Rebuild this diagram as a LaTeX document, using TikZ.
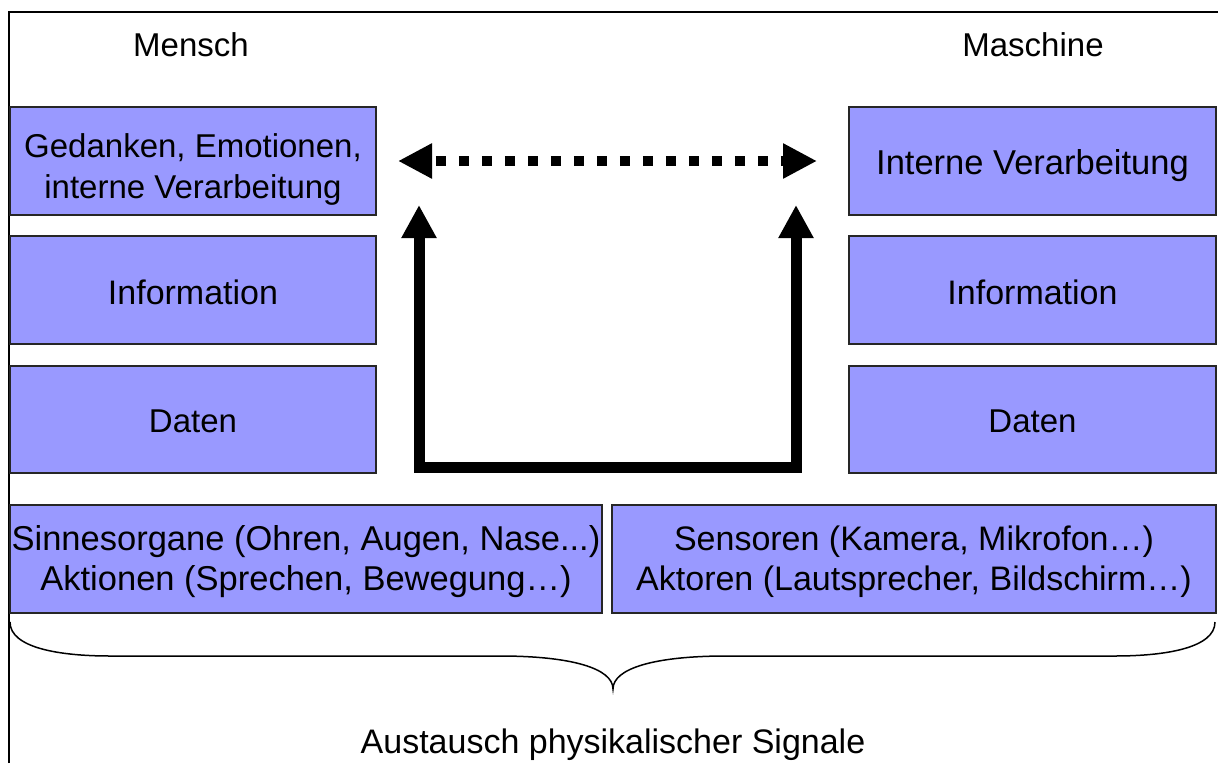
\documentclass[tikz,border=0pt]{standalone}
\usepackage{fontspec}
\setmainfont{Liberation Sans}
\usetikzlibrary{arrows.meta}
\definecolor{boxfill}{HTML}{9999FF}
\begin{document}
\begin{tikzpicture}[x=1pt,y=-1pt,
  box/.style={draw=black!85,line width=1.2pt,fill=boxfill,inner sep=0pt},
  lbl/.style={inner sep=0pt,align=center,font=\fontsize{33}{41}\selectfont},
  lblb/.style={inner sep=0pt,align=center,font=\fontsize{34.5}{40}\selectfont},
  lblm/.style={inner sep=0pt,align=center,font=\fontsize{34}{40}\selectfont},
  bigarrow/.style={line width=11pt,line join=miter,
    {Triangle[width=33pt,length=33pt]}-{Triangle[width=33pt,length=33pt]}},
  dotarrow/.style={line width=10pt,dash pattern=on 10pt off 13pt,dash phase=-6pt,
    {Triangle[width=33pt,length=34pt]}-{Triangle[width=33pt,length=34pt]}},
  bracepath/.style={line width=1.5pt}]
\useasboundingbox (0,0) rectangle (1218,763);
\fill[white] (0,0) rectangle (1218,763);
% outer frame
\draw[line width=2pt] (9,763) -- (9,12) -- (1220,12);
% titles
\node[lbl] (mensch) at (191,45) {Mensch};
\node[lbl] (maschine) at (1033,45) {Maschine};
% left column
\node[box,minimum width=366pt,minimum height=108pt] (gedanken) at (193,161) {};
\node[box,minimum width=366pt,minimum height=108pt] (infoL) at (193,290) {};
\node[box,minimum width=366pt,minimum height=107pt] (datenL) at (193,419.5) {};
% right column
\node[box,minimum width=367pt,minimum height=108pt] (intern) at (1032.5,161) {};
\node[box,minimum width=367pt,minimum height=108pt] (infoR) at (1032.5,290) {};
\node[box,minimum width=367pt,minimum height=107pt] (datenR) at (1032.5,419.5) {};
% bottom boxes
\node[box,minimum width=592pt,minimum height=108pt] (sinne) at (306,559) {};
\node[box,minimum width=604pt,minimum height=108pt] (sensoren) at (914,559) {};
% box texts
\node[lbl,yshift=-8pt] (tGedanken) at (gedanken.center) {Gedanken, Emotionen,\\interne Verarbeitung};
\node[lblm,yshift=-2pt] (tInfoL) at (infoL.center) {Information};
\node[lbl,yshift=-2pt] (tDatenL) at (datenL.center) {Daten};
\node[lblb,yshift=-5pt] (tIntern) at (intern.center) {Interne Verarbeitung};
\node[lblm,yshift=-2pt] (tInfoR) at (infoR.center) {Information};
\node[lbl,yshift=-2pt] (tDatenR) at (datenR.center) {Daten};
\node[lblb,yshift=-3pt] (tSinne) at (sinne.center) {Sinnesorgane (Ohren, Augen, Nase...)\\Aktionen (Sprechen, Bewegung\ldots)};
\node[lblm,yshift=-3pt] (tSensoren) at (sensoren.center) {Sensoren (Kamera, Mikrofon\ldots)\\Aktoren (Lautsprecher, Bildschirm\ldots)};
% arrows
\coordinate (dl) at (398,161);
\coordinate (dr) at (817,161);
\coordinate (ul) at (419,205);
\coordinate (ur) at (796,205);
\coordinate (bl) at (419,467);
\coordinate (br) at (796,467);
\draw[dotarrow] (dl) -- (dr);
\draw[bigarrow] (ul) -- (bl) -- (br) -- (ur);
% brace
\coordinate (braceL) at (10,622);
\coordinate (braceR) at (1215,622);
\coordinate (braceT) at (613,689);
\draw[bracepath] (braceL) .. controls (10,648) and (60,656) .. (110,656)
  -- (500,656) .. controls (570,656) and (613,668) .. (braceT)
  .. controls (613,668) and (656,656) .. (726,656)
  -- (1115,656) .. controls (1165,656) and (1215,648) .. (braceR);
\node[lblm] (signale) at (613,745) {Austausch physikalischer Signale};
\end{tikzpicture}
\end{document}
